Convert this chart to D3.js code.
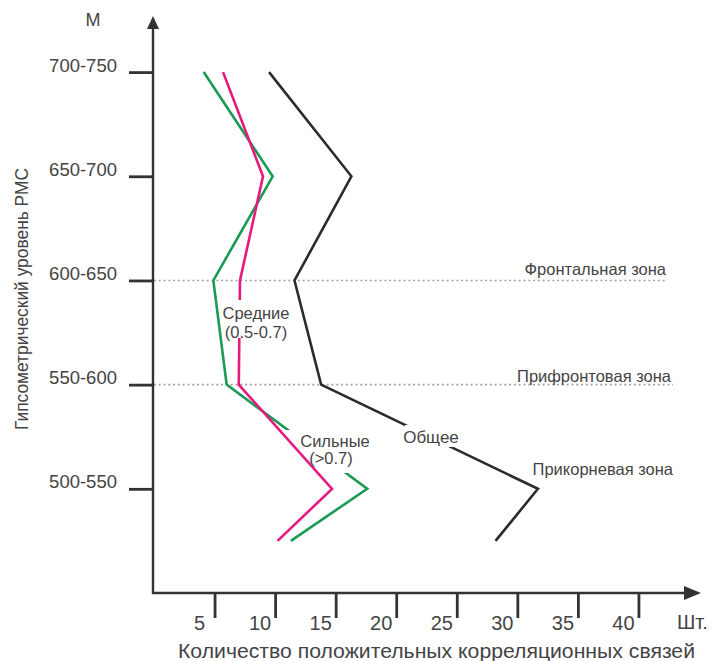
<!DOCTYPE html>
<html>
<head>
<meta charset="utf-8">
<script src="https://cdn.jsdelivr.net/npm/d3@7/dist/d3.min.js"></script>
<style>
  html, body { margin: 0; padding: 0; background: #fff; }
  svg { display: block; font-family: "Liberation Sans", Arial, Helvetica, sans-serif; }
</style>
</head>
<body>
<svg id="chart" width="709" height="661"></svg>
<script>
// ---- data ----
const levelLabels = ["700-750", "650-700", "600-650", "550-600", "500-550"];
const levelValues = [725, 675, 625, 575, 525];          // mid-heights of the levels (m)
const pointHeights = [725, 675, 625, 575, 525, 500];     // heights of the polyline vertices
const totalCounts  = [9.5, 16.3, 11.6, 13.8, 31.7, 28.2];  // Общее
const strongCounts = [4.1, 9.8, 4.9, 6.0, 17.6, 11.3];     // Сильные (>0.7)
const mediumCounts = [5.7, 9.0, 7.1, 7.0, 14.7, 10.2];     // Средние (0.5-0.7)
const xTickValues = [5, 10, 15, 20, 25, 30, 35, 40];
const zoneHeights = [625, 575];
const zoneLabels = ["Фронтальная зона", "Прифронтовая зона", "Прикорневая зона"];

// ---- layout ----
const svg = d3.select("#chart");
const x = d3.scaleLinear().domain([0, 45]).range([154, 699]);
const y = d3.scaleLinear().domain([475, 750]).range([593, 20]);
const axisColor = "#333";
const textColor = "#444";

// masks for label gaps in the lines
const defs = svg.append("defs");
function makeMask(id, box) {
  const m = defs.append("mask").attr("id", id).attr("maskUnits", "userSpaceOnUse")
    .attr("x", 0).attr("y", 0).attr("width", 709).attr("height", 661);
  m.append("rect").attr("x", 0).attr("y", 0).attr("width", 709).attr("height", 661).attr("fill", "#fff");
  m.append("rect").attr("x", box[0]).attr("y", box[1]).attr("width", box[2]).attr("height", box[3]).attr("fill", "#000");
}
makeMask("mTotal", [405, 425, 57, 22]);
makeMask("mStrong", [286, 430, 92, 43]);
makeMask("mMedium", [224, 300, 68, 38]);

// zone dotted lines
const zoneEnds = [667, 673];
zoneHeights.forEach((h, i) => {
  svg.append("line")
    .attr("x1", x(0)).attr("x2", zoneEnds[i])
    .attr("y1", y(h)).attr("y2", y(h))
    .attr("stroke", "#9a9a9a").attr("stroke-width", 1.6)
    .attr("stroke-dasharray", "1.8,3");
});

// axes
svg.append("line").attr("x1", 153).attr("x2", 153).attr("y1", 26).attr("y2", 594)
  .attr("stroke", axisColor).attr("stroke-width", 2.4);
svg.append("path").attr("d", "M153,16 L147,29 L159,29 Z").attr("fill", axisColor);
svg.append("line").attr("x1", 152).attr("x2", 688).attr("y1", 593).attr("y2", 593)
  .attr("stroke", axisColor).attr("stroke-width", 2.4);
svg.append("path").attr("d", "M701,593 L684,586 L684,600 Z").attr("fill", axisColor);

// y ticks via d3 axis
const yAxis = d3.axisLeft(y).tickValues(levelValues)
  .tickFormat((d, i) => levelLabels[i]).tickSize(24).tickPadding(11);
const gy = svg.append("g").attr("transform", "translate(153,0)").call(yAxis);
gy.select(".domain").remove();
gy.selectAll(".tick line").attr("stroke", axisColor).attr("stroke-width", 2.8);
gy.selectAll(".tick text").attr("fill", textColor).attr("font-size", 18.5)
  .attr("dy", "-0.05em").attr("x", -36);

// x ticks via d3 axis
const xAxis = d3.axisBottom(x).tickValues(xTickValues).tickSize(25).tickFormat(d3.format("d"));
const gx = svg.append("g").attr("transform", "translate(0,593)").call(xAxis);
gx.select(".domain").remove();
gx.selectAll(".tick line").attr("stroke", axisColor).attr("stroke-width", 2.8);
gx.selectAll(".tick text").attr("fill", textColor).attr("font-size", 20)
  .attr("x", -15.5).attr("y", 37).attr("dy", 0);

// lines
const line = d3.line().x(d => x(d[0])).y(d => y(d[1]));
function drawSeries(vals, color, mask) {
  svg.append("path")
    .datum(vals.map((v, i) => [v, pointHeights[i]]))
    .attr("d", line)
    .attr("fill", "none").attr("stroke", color).attr("stroke-width", 2.6)
    .attr("stroke-linejoin", "miter").attr("mask", `url(#${mask})`);
}
drawSeries(totalCounts, "#2b2b2b", "mTotal");
drawSeries(strongCounts, "#1a9b55", "mStrong");
drawSeries(mediumCounts, "#e6197f", "mMedium");

// texts
function txt(s, tx, ty, size, anchor, extra) {
  const t = svg.append("text").attr("x", tx).attr("y", ty).text(s)
    .attr("fill", textColor).attr("font-size", size).attr("text-anchor", anchor || "start");
  if (extra) extra(t);
  return t;
}
txt("М", 93, 26, 18, "middle");
txt("Шт.", 677, 629, 20, "start");
txt("Количество положительных корреляционных связей", 178, 658, 20, "start",
  t => t.attr("textLength", 517).attr("lengthAdjust", "spacingAndGlyphs"));
svg.append("text")
  .attr("transform", "translate(28,299) rotate(-90)")
  .attr("text-anchor", "middle").attr("fill", textColor).attr("font-size", 18.5)
  .attr("textLength", 262).attr("lengthAdjust", "spacingAndGlyphs")
  .text("Гипсометрический уровень РМС");

txt(zoneLabels[0], 666, 275, 16.5, "end");
txt(zoneLabels[1], 671, 382, 16.5, "end");
txt(zoneLabels[2], 673, 475, 16.5, "end");

txt("Общее", 431, 443, 17, "middle");
txt("Средние", 256, 319, 16.5, "middle");
txt("(0.5-0.7)", 256, 338, 16.5, "middle");
txt("Сильные", 335, 447, 16.5, "middle");
txt("(>0.7)", 331, 464, 16.5, "middle");
</script>
</body>
</html>
